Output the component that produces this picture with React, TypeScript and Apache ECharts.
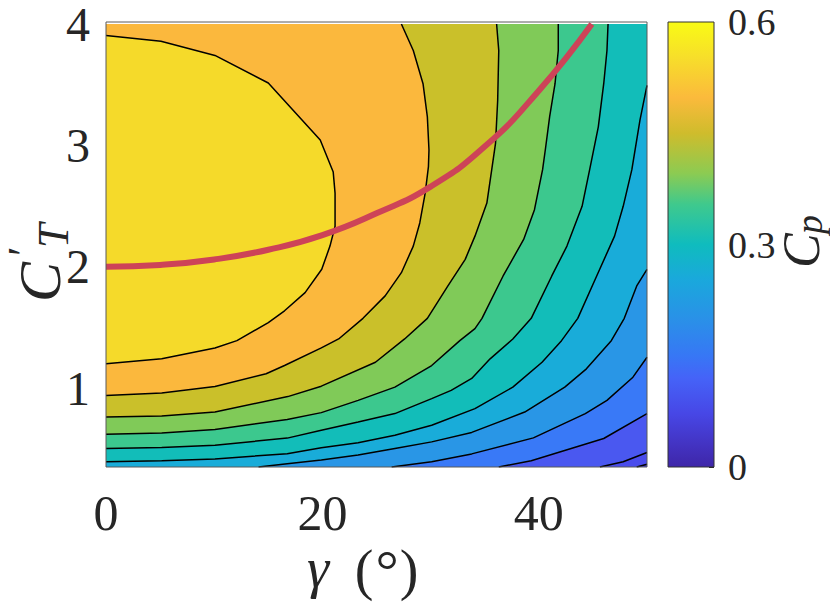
import React, { useEffect, useRef } from "react";
import * as echarts from "echarts";

// ---- axes ----
const GAMMA_MIN = 0;
const GAMMA_MAX = 50;
const CT_MIN = 0.35;
const CT_MAX = 4;
const xTickValues = [0, 20, 40];
const yTickValues = [1, 2, 3, 4];
const cpMin = 0;
const cpMax = 0.6;
const cpTickStep = 0.3;

// ---- contour lines, [gamma (deg), C'T], from highest Cp to lowest ----
const contour1 = [[0, 3.905], [5.08, 3.858], [10.07, 3.741], [15, 3.514], [19.8, 3.044], [21, 2.78], [21.17, 2.607], [21.17, 2.334], [20.7, 2.17], [19.94, 1.979], [18.4, 1.787], [16.5, 1.637], [15, 1.54], [12.1, 1.391], [10.07, 1.331], [5.15, 1.241], [0, 1.2]];
const contour2 = [[27.3, 4.0], [28.4, 3.782], [29.3, 3.508], [29.7, 3.235], [29.85, 2.962], [29.8, 2.825], [29.5, 2.607], [29.0, 2.361], [28.4, 2.17], [27.3, 1.951], [25.8, 1.76], [23.75, 1.575], [21.5, 1.405], [19.9, 1.331], [16.5, 1.186], [14.8, 1.118], [10.07, 1.014], [5.15, 0.959], [0, 0.94]];
const contour3 = [[36.1, 4.0], [36.3, 3.782], [36.2, 3.372], [36.0, 3.016], [35.65, 2.8], [35.2, 2.525], [34.1, 2.252], [33.2, 2.061], [31.6, 1.842], [29.7, 1.575], [27.6, 1.405], [24.9, 1.213], [19.9, 1.016], [16.8, 0.93], [10.07, 0.803], [5.15, 0.77], [0, 0.762]];
const contour4 = [[41.8, 4.0], [41.8, 3.782], [41.5, 3.508], [41.0, 3.235], [40.6, 2.962], [40.35, 2.8], [39.6, 2.47], [38.6, 2.225], [36.7, 1.924], [34.75, 1.575], [34.1, 1.49], [32.7, 1.391], [30.1, 1.186], [26.7, 1.008], [23.3, 0.899], [19.9, 0.798], [16.75, 0.742], [10.07, 0.659], [5.15, 0.631], [0, 0.62]];
const contour5 = [[46.4, 4.0], [46.3, 3.782], [46.0, 3.508], [45.5, 3.153], [44.7, 2.8], [44.0, 2.498], [42.6, 2.17], [41.2, 1.924], [39.3, 1.575], [37.6, 1.405], [35.5, 1.241], [33.8, 1.08], [31.9, 0.981], [30.1, 0.913], [26.7, 0.79], [23.3, 0.721], [19.9, 0.653], [16.75, 0.588], [10.07, 0.53], [5.15, 0.511], [0, 0.503]];
const contour6 = [[50, 3.495], [49.35, 3.208], [48.6, 2.8], [47.8, 2.498], [47.0, 2.252], [45.35, 1.924], [43.6, 1.575], [42.1, 1.391], [40.3, 1.213], [37.6, 1.008], [34.1, 0.831], [30.1, 0.694], [26.7, 0.612], [23.3, 0.549], [19.9, 0.508], [16.75, 0.46], [10.07, 0.416], [5.15, 0.402], [0, 0.393]];
const contour7 = [[50, 1.979], [49.05, 1.842], [47.9, 1.575], [46.7, 1.391], [44.4, 1.159], [42.4, 1.008], [38.7, 0.803], [33.8, 0.635], [30.1, 0.557], [26.7, 0.503], [23.3, 0.448], [19.9, 0.407], [16.75, 0.376], [14.1, 0.35]];
const contour8 = [[50, 1.254], [48.7, 1.09], [46.3, 0.899], [44.3, 0.79], [39.5, 0.59], [33.8, 0.458], [30.1, 0.393], [26.4, 0.35]];
const contour9 = [[50, 0.79], [46.0, 0.585], [39.3, 0.402], [36.3, 0.35]];
const contour10 = [[50, 0.47], [47.8, 0.393], [45.65, 0.35]];
const contour11 = [[50, 0.372], [49.05, 0.35]];

// colour of the band just above (higher Cp side of) each contour
const bandColors = ["#f5da2a", "#fbb83d", "#cac02a", "#80ca58", "#3cc88e", "#12bdb9", "#19acd9", "#2996e6", "#3979f7", "#4a58f0", "#4a4cec"];
const lowestBandColor = "#4540d8";

// optimal C'T curve (red)
const optimalCurve = [[0, 2.0], [5, 2.015], [10, 2.06], [15, 2.14], [20, 2.26], [25, 2.44], [30, 2.66], [35, 2.99], [40, 3.45], [44.9, 4.0]];

// colorbar (parula) stops, offset from top (0.6) to bottom (0)
const colorbarStops = [
  [0.0, "#f9fb15"], [0.08, "#f7de2a"], [0.17, "#fbba3c"], [0.25, "#cfbc2c"], [0.34, "#8ccb52"],
  [0.41, "#3fc98d"], [0.5, "#0fbcbe"], [0.58, "#1aa8dc"], [0.67, "#2a90e8"], [0.75, "#3777f5"],
  [0.8, "#4563f8"], [0.88, "#4747e6"], [0.95, "#4333c2"], [1.0, "#3e26a8"],
];

const contours = [contour1, contour2, contour3, contour4, contour5, contour6, contour7, contour8, contour9, contour10, contour11];

const EDGE_ORDER = ["bottom", "left", "top", "right"];
function edgeOf(p: number[]): string {
  const eps = 0.02;
  if (p[1] <= CT_MIN + eps) return "bottom";
  if (p[0] <= GAMMA_MIN + eps) return "left";
  if (p[1] >= CT_MAX - eps) return "top";
  return "right";
}
function cornerAfter(edge: string): number[] {
  if (edge === "bottom") return [GAMMA_MIN, CT_MIN];
  if (edge === "left") return [GAMMA_MIN, CT_MAX];
  if (edge === "top") return [GAMMA_MAX, CT_MAX];
  return [GAMMA_MAX, CT_MIN];
}
function regionAbove(c: number[][]): number[][] {
  const pts = c.slice();
  let e = edgeOf(c[c.length - 1]);
  const target = edgeOf(c[0]);
  let guard = 0;
  while (e !== target && guard < 5) {
    pts.push(cornerAfter(e));
    e = EDGE_ORDER[(EDGE_ORDER.indexOf(e) + 1) % 4];
    guard++;
  }
  return pts;
}

export default function App() {
  const ref = useRef<HTMLDivElement>(null);
  useEffect(() => {
    if (!ref.current) return;
    const chart = echarts.init(ref.current, null, { renderer: "svg" });

    const regions: number[][][] = [
      [[GAMMA_MIN, CT_MIN], [GAMMA_MAX, CT_MIN], [GAMMA_MAX, CT_MAX], [GAMMA_MIN, CT_MAX]],
    ];
    const regionColors: string[] = [lowestBandColor];
    for (let k = contours.length - 1; k >= 0; k--) {
      regions.push(regionAbove(contours[k]));
      regionColors.push(bandColors[k]);
    }

    const font = "'Liberation Serif', 'DejaVu Serif', serif";
    const textColor = "#262626";

    const series: any[] = [
      {
        type: "custom",
        xAxisIndex: 0,
        yAxisIndex: 0,
        clip: true,
        silent: true,
        data: regions.map((r, i) => [r[0][0], r[0][1], i]),
        renderItem: (params: any, api: any) => {
          const i = params.dataIndex;
          const pts = regions[i].map((p) => api.coord(p));
          return { type: "polygon", shape: { points: pts }, style: { fill: regionColors[i], stroke: regionColors[i], lineWidth: 0.3 } };
        },
        z: 1,
      },
      ...contours.map((c) => ({
        type: "line",
        xAxisIndex: 0,
        yAxisIndex: 0,
        data: c,
        showSymbol: false,
        silent: true,
        clip: true,
        lineStyle: { color: "#000", width: 1.5 },
        z: 3,
      })),
      {
        type: "line",
        xAxisIndex: 0,
        yAxisIndex: 0,
        data: optimalCurve,
        smooth: true,
        showSymbol: false,
        silent: true,
        lineStyle: { color: "#cd4358", width: 6 },
        z: 5,
      },
      {
        type: "bar",
        xAxisIndex: 1,
        yAxisIndex: 1,
        data: [cpMax],
        barWidth: "100%",
        silent: true,
        itemStyle: {
          color: new echarts.graphic.LinearGradient(0, 0, 0, 1, colorbarStops.map(([o, c]) => ({ offset: o as number, color: c as string }))),
        },
      },
    ];

    chart.setOption({
      animation: false,
      backgroundColor: "#ffffff",
      grid: [
        { left: 106, top: 22, width: 541, height: 445 },
        { left: 668, top: 22, width: 46, height: 445 },
      ],
      xAxis: [
        {
          type: "value",
          gridIndex: 0,
          min: GAMMA_MIN,
          max: GAMMA_MAX,
          interval: 20,
          axisLine: { show: false },
          axisTick: { show: false },
          splitLine: { show: false },
          axisLabel: { fontFamily: font, fontSize: 50, lineHeight: 40, color: textColor, margin: 26, customValues: xTickValues },
        },
        { type: "category", gridIndex: 1, data: ["Cp"], show: false },
      ],
      yAxis: [
        {
          type: "value",
          gridIndex: 0,
          min: CT_MIN,
          max: CT_MAX,
          axisLine: { show: false },
          axisTick: { show: false },
          splitLine: { show: false },
          axisLabel: { fontFamily: font, fontSize: 48, lineHeight: 40, color: textColor, margin: 16, customValues: yTickValues },
        },
        {
          type: "value",
          gridIndex: 1,
          position: "right",
          min: cpMin,
          max: cpMax,
          interval: cpTickStep,
          axisLine: { show: false },
          axisTick: { show: true, inside: true, length: 5, lineStyle: { color: "#262626", width: 1 } },
          splitLine: { show: false },
          axisLabel: {
            fontFamily: font,
            fontSize: 38,
            lineHeight: 30,
            color: textColor,
            margin: 14,
            formatter: (v: number) => (v === 0 ? "0" : v.toFixed(1)),
          },
        },
      ],
      series,
      graphic: [
        { type: "rect", shape: { x: 106, y: 22, width: 541, height: 445 }, style: { fill: "none", stroke: "#5a5a5a", lineWidth: 1 }, z: 100, silent: true },
        { type: "rect", shape: { x: 668, y: 22, width: 46, height: 445 }, style: { fill: "none", stroke: "#333", lineWidth: 1 }, z: 100, silent: true },
        // x axis name: gamma (degrees)
        { type: "text", x: 318, y: 568, style: { text: "γ", fontFamily: font, fontStyle: "italic", fontSize: 56, lineHeight: 56, fill: textColor, align: "center", verticalAlign: "middle" }, z: 100 },
        { type: "text", x: 364, y: 570, style: { text: "(", fontFamily: font, fontSize: 56, lineHeight: 56, fill: textColor, align: "center", verticalAlign: "middle" }, z: 100 },
        { type: "text", x: 387, y: 570, style: { text: "°", fontFamily: font, fontSize: 58, lineHeight: 56, fill: textColor, align: "center", verticalAlign: "middle" }, z: 100 },
        { type: "text", x: 409, y: 570, style: { text: ")", fontFamily: font, fontSize: 56, lineHeight: 56, fill: textColor, align: "center", verticalAlign: "middle" }, z: 100 },
        // y axis name: C'_T
        {
          type: "group",
          x: 40,
          y: 302,
          rotation: Math.PI / 2,
          z: 100,
          children: [
            { type: "text", x: 0, y: 0, style: { text: "C", fontFamily: font, fontStyle: "italic", fontSize: 60, lineHeight: 46, fill: textColor, align: "left", verticalAlign: "middle" } },
            { type: "text", x: 46, y: -17, style: { text: "′", fontFamily: font, fontSize: 44, lineHeight: 30, fill: textColor, align: "left", verticalAlign: "middle" } },
            { type: "text", x: 54, y: 13, style: { text: "T", fontFamily: font, fontStyle: "italic", fontSize: 44, lineHeight: 30, fill: textColor, align: "left", verticalAlign: "middle" } },
          ],
        },
        // colorbar name: C_p
        {
          type: "group",
          x: 801,
          y: 268,
          rotation: Math.PI / 2,
          z: 100,
          children: [
            { type: "text", x: 0, y: 0, style: { text: "C", fontFamily: font, fontStyle: "italic", fontSize: 52, lineHeight: 38, fill: textColor, align: "left", verticalAlign: "middle" } },
            { type: "text", x: 34, y: 8, style: { text: "p", fontFamily: font, fontStyle: "italic", fontSize: 38, lineHeight: 24, fill: textColor, align: "left", verticalAlign: "middle" } },
          ],
        },
      ],
    });
    return () => chart.dispose();
  }, []);
  return <div ref={ref} style={{ position: "fixed", left: 0, top: 0, width: 830, height: 603 }} />;
}
